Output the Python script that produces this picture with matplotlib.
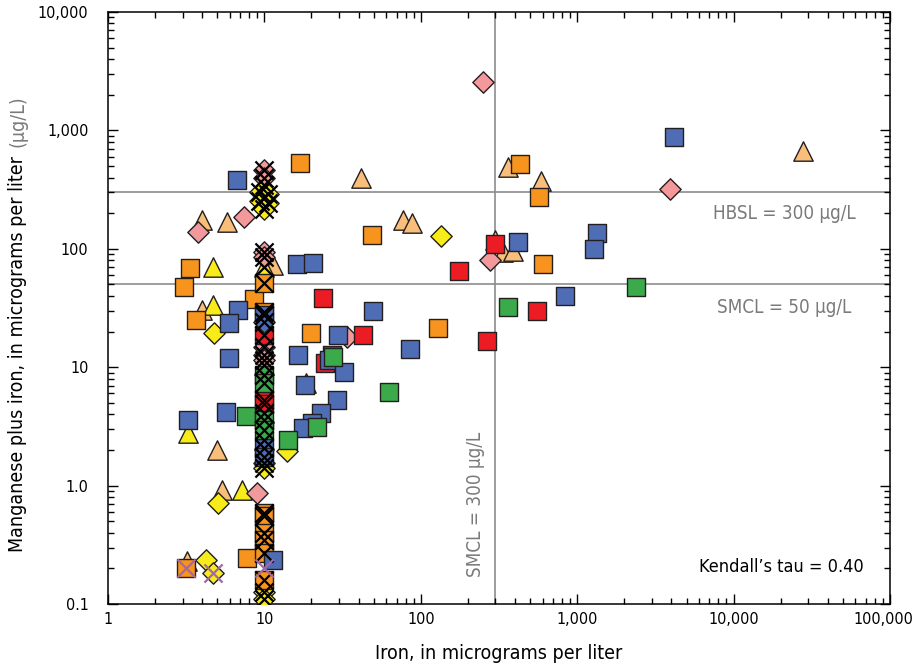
import matplotlib

matplotlib.use("Agg")
import matplotlib.pyplot as plt
import matplotlib.ticker as mticker
import matplotlib.transforms as mtransforms
from matplotlib import font_manager

# condensed sans-serif if available
names = {f.name for f in font_manager.fontManager.ttflist}
if "Liberation Sans Narrow" in names:
    plt.rcParams["font.family"] = "Liberation Sans Narrow"
else:
    plt.rcParams["font.family"] = "DejaVu Sans"
    plt.rcParams["font.stretch"] = "condensed"

# ============================================================
# Iron (x) vs manganese plus iron (y), micrograms per liter
# ============================================================
# orange squares
sq_orange_fe = [16.9, 431, 570, 48.7, 3.35, 3.06, 8.58, 604, 129, 19.9, 3.65, 7.74, 3.15]
sq_orange_mnfe = [530, 520, 273, 131, 68.8, 47.5, 37.7, 74.5, 21.4, 19.5, 25, 0.245, 0.2]
sq_orange_cens_fe = [10, 10, 10, 10, 10, 10, 10, 10]
sq_orange_cens_mnfe = [51, 29.3, 0.587, 0.55, 0.40, 0.35, 0.27, 0.16]

# blue squares
sq_blue_fe = [6.7, 4160, 418, 1340, 1280, 836, 85, 16.2, 20.5, 49.5, 29.6, 16.4, 25.8,
              32.3, 5.94, 18.2, 29.1, 23.0, 20.2, 17.6, 6.78, 5.94, 3.25, 5.68, 11.4]
sq_blue_mnfe = [380, 880, 114, 136, 100, 40, 14.3, 74.5, 76, 30, 18.7, 12.7, 11.5,
                9.1, 12.0, 7.1, 5.3, 4.1, 3.38, 3.06, 30.4, 23.6, 3.58, 4.19, 0.236]
sq_blue_cens_fe = [10, 10, 10]
sq_blue_cens_mnfe = [27.6, 2.08, 1.75]

# red squares
sq_red_fe = [298, 175, 553, 265, 23.7, 42.7, 24.4, 27.0]
sq_red_mnfe = [110, 65, 30, 16.6, 38.4, 18.7, 10.8, 12.6]
sq_red_cens_fe = [10, 10, 10]
sq_red_cens_mnfe = [18.7, 5.3, 4.9]

# green squares
sq_green_fe = [2377, 361, 27.5, 62.6, 7.63, 21.7, 14.2]
sq_green_mnfe = [47.5, 32.2, 12.2, 6.2, 3.87, 3.13, 2.43]
sq_green_cens_fe = [10, 10, 10, 10]
sq_green_cens_mnfe = [8.6, 7.4, 3.58, 2.95]

# tan triangles
tri_tan_fe = [27800, 361, 587, 77, 88, 300, 336, 389, 41.5, 5.77, 4.0, 11.4, 4.0,
              4.98, 5.36, 3.2, 18.5]
tri_tan_mnfe = [670, 491, 374, 175, 165, 118, 94, 96, 396, 168, 175, 73, 30.4,
                2.0, 0.92, 0.23, 7.3]
tri_tan_cens_fe = [10, 10]
tri_tan_cens_mnfe = [346, 4.1]

# yellow triangles
tri_yellow_fe = [4.7, 4.7, 3.25, 7.19]
tri_yellow_mnfe = [70, 33.5, 2.78, 0.91]
tri_yellow_cens_fe = [10, 10, 10]
tri_yellow_cens_mnfe = [70, 10.4, 2.43]

# pink diamonds
dia_pink_fe = [250, 3920, 7.4, 3.76, 277, 33.7, 8.97]
dia_pink_mnfe = [2565, 320, 186, 139, 80, 18, 0.866]
dia_pink_cens_fe = [10, 10, 10, 10, 10, 10, 10]
dia_pink_cens_mnfe = [460, 400, 94, 85, 14.8, 12.7, 11.4]

# yellow diamonds
dia_yellow_fe = [135, 4.76, 5.05, 13.9, 4.23, 4.69]
dia_yellow_mnfe = [128, 19.5, 0.71, 1.95, 0.236, 0.183]
dia_yellow_cens_fe = [9.4, 10.6, 9.4, 10.6, 10, 10, 10, 10, 10]
dia_yellow_cens_mnfe = [300, 290, 255, 245, 215, 1.55, 1.41, 0.126, 0.11]

# blue diamond
dia_blue_cens_fe = [10]
dia_blue_cens_mnfe = [24]

# purple crosses
purple_fe = [3.15, 4.69, 10]
purple_mnfe = [0.2, 0.183, 0.2]

x_ticks = [1, 10, 100, 1000, 10000, 100000]
x_tick_labels = ["1", "10", "100", "1,000", "10,000", "100,000"]
y_ticks = [0.1, 1, 10, 100, 1000, 10000]
y_tick_labels = ["0.1", "1.0", "10", "100", "1,000", "10,000"]

fe_smcl = 300
mnfe_hbsl = 300
mnfe_smcl = 50

# ============================================================
edge = "#231F20"
groups = [
    (tri_tan_fe + tri_tan_cens_fe, tri_tan_mnfe + tri_tan_cens_mnfe, "^", "#F9BF7A", 195),
    (tri_yellow_fe + tri_yellow_cens_fe, tri_yellow_mnfe + tri_yellow_cens_mnfe, "^", "#F7EC1A", 195),
    (dia_pink_fe + dia_pink_cens_fe, dia_pink_mnfe + dia_pink_cens_mnfe, "D", "#F4999B", 118),
    (dia_yellow_fe + dia_yellow_cens_fe, dia_yellow_mnfe + dia_yellow_cens_mnfe, "D", "#F7EC1A", 118),
    (sq_orange_fe + sq_orange_cens_fe, sq_orange_mnfe + sq_orange_cens_mnfe, "s", "#F7941D", 185),
    (sq_red_fe + sq_red_cens_fe, sq_red_mnfe + sq_red_cens_mnfe, "s", "#EC1C24", 185),
    (sq_blue_fe + sq_blue_cens_fe, sq_blue_mnfe + sq_blue_cens_mnfe, "s", "#4F6DB5", 185),
    (sq_green_fe + sq_green_cens_fe, sq_green_mnfe + sq_green_cens_mnfe, "s", "#3BAA4A", 185),
    (dia_blue_cens_fe, dia_blue_cens_mnfe, "D", "#4F6DB5", 118),
]

cens_fe = (sq_orange_cens_fe + sq_blue_cens_fe + sq_red_cens_fe + sq_green_cens_fe
           + tri_tan_cens_fe + tri_yellow_cens_fe + dia_pink_cens_fe
           + dia_yellow_cens_fe + dia_blue_cens_fe)
cens_mnfe = (sq_orange_cens_mnfe + sq_blue_cens_mnfe + sq_red_cens_mnfe + sq_green_cens_mnfe
             + tri_tan_cens_mnfe + tri_yellow_cens_mnfe + dia_pink_cens_mnfe
             + dia_yellow_cens_mnfe + dia_blue_cens_mnfe)

fig = plt.figure(figsize=(9.17, 6.71), dpi=100)
ax = fig.add_axes([108 / 917, 1 - 604 / 671, 782 / 917, 592 / 671])

ref_col = "#8C8C8C"
ax.axvline(fe_smcl, color=ref_col, linewidth=1.2, zorder=1)
ax.axhline(mnfe_hbsl, color=ref_col, linewidth=1.2, zorder=1)
ax.axhline(mnfe_smcl, color=ref_col, linewidth=1.2, zorder=1)

for z, (fe, mnfe, mk, col, s) in enumerate(groups):
    ax.scatter(fe, mnfe, marker=mk, s=s, c=col, edgecolors=edge,
               linewidths=1.0, zorder=3 + z)

ax.scatter(cens_fe, cens_mnfe, marker="x", s=170, c="black", linewidths=1.6, zorder=20)
ax.scatter(purple_fe, purple_mnfe, marker="x", s=170, c="#A666AE", linewidths=1.6, zorder=21)

ax.set_xscale("log")
ax.set_yscale("log")
ax.set_xlim(1, 100000)
ax.set_ylim(0.1, 10000)
ax.xaxis.set_major_locator(mticker.FixedLocator(x_ticks))
ax.xaxis.set_major_formatter(mticker.FixedFormatter(x_tick_labels))
ax.yaxis.set_major_locator(mticker.FixedLocator(y_ticks))
ax.yaxis.set_major_formatter(mticker.FixedFormatter(y_tick_labels))
ax.xaxis.set_minor_locator(mticker.LogLocator(base=10, subs=range(2, 10), numticks=20))
ax.yaxis.set_minor_locator(mticker.LogLocator(base=10, subs=range(2, 10), numticks=20))
ax.xaxis.set_minor_formatter(mticker.NullFormatter())
ax.yaxis.set_minor_formatter(mticker.NullFormatter())
ax.tick_params(which="both", direction="in", top=True, right=True, width=1.0, labelsize=11.5)
ax.tick_params(which="major", length=7)
ax.tick_params(which="minor", length=4.3)
ax.tick_params(axis="y", pad=14)
ax.tick_params(axis="x", pad=6)
for sp in ax.spines.values():
    sp.set_linewidth(1.1)

ax.set_xlabel("Iron, in micrograms per liter", fontsize=14)
ax.xaxis.set_label_coords(0.5, -0.068)

txt_col = "#7A7A7A"
ax.text(6.0e4, 200, "HBSL = 300 µg/L", color=txt_col, fontsize=13.5, ha="right", va="center")
ax.text(5.7e4, 32, "SMCL = 50 µg/L", color=txt_col, fontsize=13.5, ha="right", va="center")
ax.text(225, 0.17, "SMCL = 300 µg/L", color=txt_col, fontsize=13.5, rotation=90,
        ha="center", va="bottom")
ax.text(6.8e4, 0.205, "Kendall\u2019s tau = 0.40", color="black", fontsize=13,
        ha="right", va="center")

# y label in two colours
yl_x = 18 / 917
lab1 = fig.text(yl_x, 0.5, "Manganese plus iron, in micrograms per liter ", fontsize=14,
                rotation=90, ha="center", va="bottom")
lab2 = fig.text(yl_x, 0.5, "(µg/L)", fontsize=14, color=txt_col,
                rotation=90, ha="center", va="bottom")
fig.canvas.draw()
r = fig.canvas.get_renderer()
h1 = lab1.get_window_extent(r).height
h2 = lab2.get_window_extent(r).height
H = fig.bbox.height
y0 = (671 - 325) - (h1 + h2) / 2
lab1.set_y(y0 / H)
lab2.set_y((y0 + h1 + 3) / H)

# keep the last x tick label inside the figure
last = ax.xaxis.get_major_ticks()[-1].label1
last.set_transform(last.get_transform()
                   + mtransforms.ScaledTranslation(-5 / 72, 0, fig.dpi_scale_trans))

fig.savefig("out.png", dpi=100)
plt.close(fig)
